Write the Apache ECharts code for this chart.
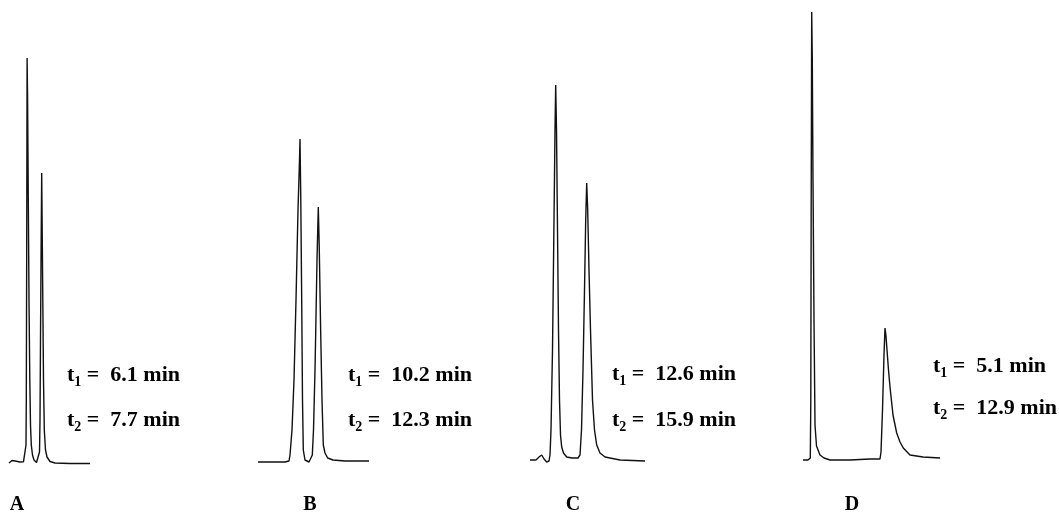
<!DOCTYPE html>
<html lang="en">
<head>
    <meta charset="UTF-8">
    <title>Chromatograms A-D</title>
    <script src="https://cdn.jsdelivr.net/npm/echarts@6.0.0/dist/echarts.min.js"></script>
    <style>
        html, body { margin: 0; padding: 0; background: #fff; }
        #main { width: 1059px; height: 513px; }
    </style>
</head>
<body>
    <div id="main"></div>
    <script>
        // detector signal traces: [time offset, signal height above baseline]
        var traceA = [[1,0],[2,0.5],[4,2.5],[5.5,3],[7,2],[9,0.5],[12,1],[15.5,1.3],[17.5,1],[18,18],[18.3,63],[18.7,213],[19.1,405],
            [19.6,363],[20.3,263],[21,163],[21.8,83],[22.5,38],[23.3,18],[24.5,8],[26,3],[28.5,0.5],[30.5,1],[31.5,11],[32,43],
            [32.5,123],[33.1,213],[33.7,290],[34.2,233],[34.8,163],[35.5,83],[36.3,33],[37.5,13],[39,6],[42,1.5],[47,0],[62,-0.5],[82,-0.5]];
        var traceB = [[1,1],[28,1],[32,2],[33,8],[35,33],[37,83],[39,163],[41,253],[42.5,303],[43,324],[43.8,263],[44.7,163],
            [45.5,63],[46.3,13],[48,3],[50,1],[52,1],[54,3],[55.3,8],[56.5,33],[58,93],[58.7,130],[60,203],[61.3,256],[62.3,213],
            [63.7,130],[65,63],[66.3,18],[68,10],[70.7,5],[76,3],[88,2],[112,2]];
        var traceC = [[2,3],[8,3],[11,6],[13.7,8],[16,4],[18.7,1],[21,2],[22,8],[23,33],[24.5,113],[26,243],[27,333],[27.7,378],
            [28.5,333],[29.5,233],[30.5,133],[31.5,63],[32.5,28],[33.7,16],[35.5,10],[38.7,6],[44,5],[50,5],[52,8],[53.5,33],
            [55,93],[56.5,173],[57.7,243],[58.7,280],[59.7,253],[61,193],[62.5,133],[64.5,63],[66.5,33],[68.7,18],[72,10],
            [77,6],[92,3],[117,2]];
        var traceD = [[3,3],[8,3],[10.3,5],[10.8,63],[11.2,263],[11.7,451],[12.3,403],[13,283],[14,143],[15,38],[16.5,17],
            [20,8],[24,5],[30,3],[50,3],[70,4],[80,4],[81,11],[82.5,53],[84,108],[85,135],[86,127],[87,113],[88.5,93],[90,76],
            [93,48],[96.7,30],[100,21],[103.3,15],[110,8],[123,6],[140,5]];

        var panelNames = ['A', 'B', 'C', 'D'];
        var t1Values = ['6.1', '10.2', '12.6', '5.1'];
        var t2Values = ['7.7', '12.3', '15.9', '12.9'];

        var traces = [traceA, traceB, traceC, traceD];
        var panelLeft = [8, 257, 528, 800];
        var panelWidth = [87, 115, 122, 145];
        var textPos = [[67, 361, 406], [348, 361, 406], [612, 360, 406], [933, 352, 394]];
        var namePos = [17, 310, 573, 852];

        var chart = echarts.init(document.getElementById('main'));

        var grids = [], xAxes = [], yAxes = [], series = [], graphics = [];
        var font = '"Liberation Serif", "Times New Roman", serif';

        function rt(sub, val) {
            return {
                text: '{t|t}{s|' + sub + '}{t| =  ' + val + ' min}',
                rich: {
                    t: { fontSize: 22, fontWeight: 'bold', fontFamily: font, fill: '#000', lineHeight: 28 },
                    s: { fontSize: 14, fontWeight: 'bold', fontFamily: font, fill: '#000', verticalAlign: 'bottom', lineHeight: 18 }
                }
            };
        }

        for (var i = 0; i < 4; i++) {
            grids.push({ left: panelLeft[i], top: 0, width: panelWidth[i], height: 473 });
            xAxes.push({ type: 'value', gridIndex: i, min: 0, max: panelWidth[i], show: false });
            yAxes.push({ type: 'value', gridIndex: i, min: -10, max: 463, show: false });
            series.push({
                type: 'line',
                xAxisIndex: i,
                yAxisIndex: i,
                data: traces[i],
                showSymbol: false,
                smooth: false,
                lineStyle: { color: '#111', width: 1.4 }
            });
            graphics.push({ type: 'text', x: textPos[i][0], y: textPos[i][1], style: rt('1', t1Values[i]) });
            graphics.push({ type: 'text', x: textPos[i][0], y: textPos[i][2], style: rt('2', t2Values[i]) });
            graphics.push({
                type: 'text', x: namePos[i], y: 505,
                style: { text: panelNames[i], fontSize: 20, fontWeight: 'bold', fontFamily: font, fill: '#000',
                    align: 'center', verticalAlign: 'middle' }
            });
        }

        chart.setOption({
            animation: false,
            grid: grids,
            xAxis: xAxes,
            yAxis: yAxes,
            series: series,
            graphic: graphics
        });
    </script>
</body>
</html>
